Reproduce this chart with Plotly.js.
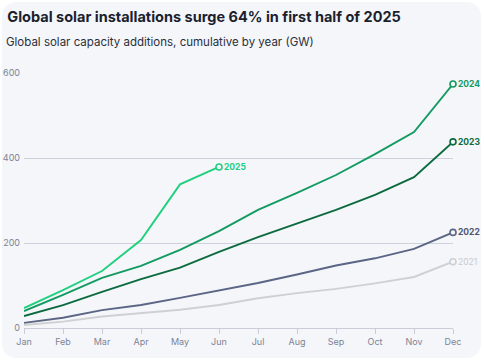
<!DOCTYPE html>
<html><head><meta charset="utf-8">
<script src="https://cdn.plot.ly/plotly-3.0.1.min.js"></script>
<style>
html,body{margin:0;padding:0;background:#ffffff;}
#card{position:absolute;left:2px;top:2px;width:479px;height:356px;background:#f4f6fa;border-radius:14px;}
#chart{position:absolute;left:-2px;top:-2px;width:484px;height:363px;}
</style></head>
<body><div id="card"><div id="chart"></div></div>
<script>
const months = ["Jan","Feb","Mar","Apr","May","Jun","Jul","Aug","Sep","Oct","Nov","Dec"];
const y2021 = [7,15,27,35,43,54,70,82,92,105,120,156];
const y2022 = [12,24,42,54,71,88,106,126,147,164,186,225];
const y2023 = [28,54,85,115,142,179,214,246,278,313,355,438];
const y2024 = [40,78,118,146,184,228,278,318,360,409,461,574];
const y2025 = [47,89,134,207,338,379];
const seriesNames = ["2021","2022","2023","2024","2025"];
const seriesData = [y2021,y2022,y2023,y2024,y2025];
const colors = ["#cfd0d2","#5b6584","#0c6b3e","#139a61","#21d07f"];
const labelColors = ["#c9cacc","#4d5570","#0c6b3e","#139a61","#21d07f"];

const traces = [];
const annotations = [];
seriesData.forEach((d,i)=>{
  const x = months.slice(0,d.length);
  traces.push({x:x,y:d,type:'scatter',mode:'lines',line:{color:colors[i],width:1.9},hoverinfo:'skip',cliponaxis:false});
  traces.push({x:[x[x.length-1]],y:[d[d.length-1]],type:'scatter',mode:'markers',
    marker:{symbol:'circle',size:6,color:'#f4f6fa',line:{color:colors[i],width:1.6}},hoverinfo:'skip',cliponaxis:false});
  annotations.push({x:x[x.length-1],y:d[d.length-1],xref:'x',yref:'y',text:i==0?seriesNames[i]:'<b>'+seriesNames[i]+'</b>',
    showarrow:false,xanchor:'left',yanchor:'middle',xshift:3,
    font:{family:'Inter, "Noto Sans", sans-serif',size:8.5,color:labelColors[i]}});
});
annotations.push({xref:'paper',yref:'paper',x:-0.046,y:1.085,xanchor:'left',yanchor:'bottom',showarrow:false,
  text:'Global solar capacity additions, cumulative by year (GW)',
  font:{family:'Inter, "Noto Sans", sans-serif',size:11.5,color:'#2b2f3a'}});

const layout = {
  width:484,height:363,
  paper_bgcolor:'rgba(0,0,0,0)',plot_bgcolor:'rgba(0,0,0,0)',
  margin:{l:24,r:31,t:73,b:35},
  showlegend:false,
  title:{text:'<b>Global solar installations surge 64% in first half of 2025</b>',x:0.015,xanchor:'left',y:0.968,yanchor:'top',
    font:{family:'Inter, "Noto Sans", sans-serif',size:14.5,color:'#1b1f2e'}},
  xaxis:{type:'category',categoryorder:'array',categoryarray:months,range:[0,11],
    showgrid:false,showline:true,linecolor:'#c9cdd8',linewidth:1,
    ticks:'outside',ticklen:5,tickcolor:'#c9cdd8',
    tickfont:{family:'Inter, "Noto Sans", sans-serif',size:9,color:'#7d8394'},fixedrange:true},
  yaxis:{range:[0,600],tickvals:[0,200,400,600],showgrid:true,gridcolor:'#cdd1dc',gridwidth:1,
    zeroline:false,showline:false,ticks:'',ticklabelstandoff:3,
    tickfont:{family:'Inter, "Noto Sans", sans-serif',size:9,color:'#7d8394'},fixedrange:true},
  annotations:annotations
};
Plotly.newPlot('chart',traces,layout,{displayModeBar:false,staticPlot:true});
</script></body></html>
